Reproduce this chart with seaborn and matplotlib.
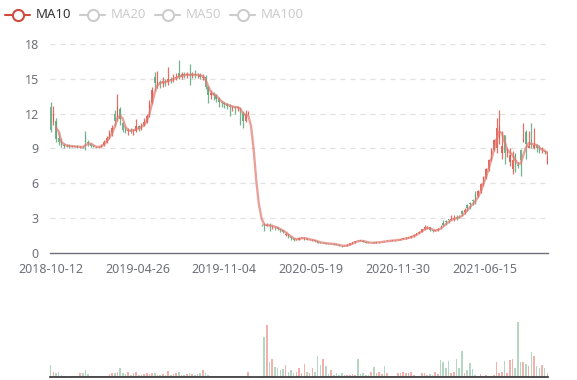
import numpy as np
import pandas as pd
import matplotlib
matplotlib.use("Agg")
import matplotlib.pyplot as plt
import seaborn as sns
from matplotlib.lines import Line2D

# x axis: trading-day index, labelled at these sessions
tick_days = [0, 130, 260, 390, 520, 650]
tick_labels = ["2018-10-12", "2019-04-26", "2019-11-04", "2020-05-19", "2020-11-30", "2021-06-15"]
legend_names = ["MA10", "MA20", "MA50", "MA100"]
step = 4  # one session sampled every 4 trading days

open_ = [
    12.6, 11.3, 11.4, 9.9, 9.6, 9.3, 9.2, 9.25, 9.2, 9.15,
    9.2, 9.1, 9.15, 10.2, 9.6, 9.4, 9.2, 9.15, 9.1, 9.15,
    9.3, 9.6, 9.9, 10.3, 12.0, 11.6, 12.4, 11.2, 10.6, 10.5,
    10.6, 10.5, 10.5, 10.9, 10.7, 11.0, 11.3, 11.8, 12.9, 15.2,
    14.4, 14.7, 14.6, 14.8, 14.7, 15.0, 14.9, 15.1, 15.5, 15.2,
    15.4, 15.3, 15.4, 15.3, 15.4, 15.3, 15.35, 15.1, 15.2, 14.3,
    13.6, 13.8, 13.6, 13.3, 13.0, 12.9, 12.8, 12.7, 12.5, 12.6,
    12.5, 12.5, 12.1, 11.4, 12.0, 8.8, 6.0, 3.9, 2.6, 2.45,
    2.5, 2.35, 2.45, 2.2, 2.28, 2.2, 2.05, 1.95, 1.55, 1.6,
    1.4, 1.25, 1.12, 1.15, 1.3, 1.18, 1.22, 1.13, 1.08, 1.1,
    1.0, 0.9, 0.86, 0.88, 0.8, 0.78, 0.8, 0.76, 0.7, 0.64,
    0.58, 0.62, 0.72, 0.82, 0.92, 1.1, 1.08, 1.05, 0.98, 0.9,
    0.86, 0.92, 0.9, 0.92, 0.94, 1.04, 1.02, 1.05, 1.07, 1.08,
    1.1, 1.15, 1.2, 1.25, 1.3, 1.35, 1.45, 1.55, 1.7, 1.85,
    2.05, 2.2, 2.2, 1.95, 1.9, 1.95, 2.35, 2.6, 2.75, 2.9,
    2.85, 2.95, 3.1, 3.2, 3.6, 3.5, 4.1, 4.3, 4.6, 5.1,
    4.9, 5.3, 5.9, 6.5, 7.2, 8.0, 8.9, 9.0, 9.8, 8.6,
    10.2, 8.6, 7.8, 7.2, 8.5, 7.6, 8.9, 9.6, 10.4, 9.0,
    9.8, 9.0, 9.3, 9.0, 8.75, 8.8, 7.7]
close = [
    10.6, 12.0, 9.8, 9.6, 9.3, 9.2, 9.25, 9.2, 9.15, 9.2,
    9.1, 9.15, 9.1, 9.6, 9.5, 9.2, 9.15, 9.1, 9.15, 9.3,
    9.6, 9.9, 10.3, 10.8, 11.4, 12.6, 11.5, 10.6, 10.5, 10.6,
    10.5, 10.6, 10.9, 10.7, 11.0, 11.3, 11.8, 12.9, 14.0, 14.6,
    14.7, 14.6, 14.8, 14.7, 15.0, 14.9, 15.1, 15.2, 15.2, 15.4,
    15.3, 15.4, 15.3, 15.4, 15.3, 15.35, 15.2, 15.2, 14.3, 13.6,
    13.8, 13.6, 13.3, 13.0, 12.9, 12.8, 12.7, 12.6, 12.6, 12.5,
    12.55, 12.2, 11.4, 12.0, 12.1, 8.8, 6.0, 3.9, 2.6, 2.4,
    2.35, 2.45, 2.3, 2.28, 2.2, 2.05, 1.95, 1.8, 1.62, 1.4,
    1.25, 1.15, 1.15, 1.3, 1.35, 1.22, 1.15, 1.15, 1.1, 1.0,
    0.9, 0.86, 0.88, 0.8, 0.79, 0.8, 0.76, 0.7, 0.64, 0.58,
    0.62, 0.72, 0.82, 0.92, 1.02, 1.08, 1.05, 0.98, 0.9, 0.86,
    0.88, 0.9, 0.92, 0.94, 0.98, 1.02, 1.05, 1.07, 1.08, 1.1,
    1.15, 1.2, 1.25, 1.3, 1.35, 1.45, 1.55, 1.7, 1.85, 2.05,
    2.2, 2.25, 1.95, 1.9, 1.95, 2.1, 2.3, 2.45, 2.7, 2.85,
    2.95, 3.0, 3.05, 3.15, 3.4, 3.7, 3.9, 4.2, 4.5, 4.6,
    5.3, 5.9, 6.5, 7.2, 8.0, 8.9, 9.7, 10.8, 10.9, 9.2,
    8.6, 8.9, 8.4, 8.0, 7.6, 7.5, 8.0, 9.8, 9.4, 9.2,
    9.6, 9.3, 9.0, 8.9, 8.8, 8.7, 8.3]
high = [
    13.0, 12.7, 11.6, 10.4, 9.9, 9.5, 9.4, 9.35, 9.3, 9.25,
    9.3, 9.2, 9.2, 10.55, 9.7, 9.5, 9.3, 9.25, 9.2, 9.4,
    9.7, 10.1, 10.6, 11.0, 12.3, 13.7, 12.6, 11.3, 10.9, 10.8,
    10.8, 10.7, 11.5, 11.0, 11.2, 11.6, 12.0, 13.2, 14.3, 15.6,
    15.7, 14.9, 15.2, 15.0, 16.0, 15.2, 15.4, 15.5, 16.6, 15.6,
    15.6, 15.6, 16.3, 15.6, 15.8, 15.5, 15.5, 15.4, 15.3, 14.4,
    14.0, 13.9, 13.7, 13.4, 13.1, 13.0, 12.9, 12.8, 12.7, 12.7,
    12.7, 12.6, 12.2, 12.3, 12.2, 8.8, 6.0, 3.9, 2.6, 2.5,
    2.6, 2.6, 2.55, 2.4, 2.35, 2.25, 2.1, 2.0, 1.85, 1.65,
    1.45, 1.3, 1.2, 1.35, 1.4, 1.4, 1.25, 1.2, 1.2, 1.12,
    1.02, 0.95, 0.92, 0.9, 0.83, 0.84, 0.82, 0.78, 0.72, 0.66,
    0.66, 0.76, 0.86, 0.96, 1.06, 1.12, 1.12, 1.08, 1.0, 0.92,
    0.9, 0.93, 0.95, 0.97, 1.0, 1.05, 1.08, 1.1, 1.1, 1.12,
    1.18, 1.24, 1.3, 1.35, 1.4, 1.5, 1.6, 1.75, 1.9, 2.1,
    2.37, 2.35, 2.25, 2.0, 2.0, 2.15, 2.4, 2.8, 2.8, 2.95,
    3.3, 3.3, 3.3, 3.25, 3.7, 3.9, 4.2, 4.35, 4.65, 5.3,
    5.4, 6.0, 6.6, 7.3, 8.1, 9.0, 9.8, 11.6, 12.3, 10.5,
    10.2, 9.0, 9.0, 8.8, 8.6, 7.8, 8.95, 11.2, 10.6, 10.5,
    11.2, 10.8, 9.4, 9.3, 9.1, 8.9, 8.8]
low = [
    10.4, 11.0, 9.6, 9.3, 9.1, 9.0, 9.1, 9.05, 9.1, 9.1,
    9.05, 9.05, 9.0, 8.9, 9.2, 9.1, 9.1, 9.05, 9.05, 9.1,
    9.2, 9.5, 9.8, 10.1, 10.9, 11.4, 11.0, 10.4, 10.3, 10.2,
    10.3, 10.2, 10.4, 10.5, 10.6, 10.9, 11.2, 11.7, 12.8, 14.0,
    14.2, 14.2, 14.3, 14.4, 14.5, 14.6, 14.7, 14.9, 15.0, 15.0,
    15.1, 15.1, 14.5, 15.1, 15.1, 15.1, 15.0, 14.9, 14.1, 12.9,
    13.3, 13.2, 13.0, 12.6, 12.6, 12.5, 12.4, 11.8, 12.2, 12.0,
    12.2, 11.0, 10.8, 11.3, 11.9, 8.8, 6.0, 3.9, 2.6, 2.3,
    1.9, 2.3, 1.9, 2.1, 2.0, 1.95, 1.85, 1.7, 1.45, 1.3,
    1.15, 1.05, 1.1, 1.1, 1.25, 1.15, 1.1, 1.1, 1.05, 0.95,
    0.85, 0.82, 0.82, 0.76, 0.75, 0.75, 0.73, 0.66, 0.6, 0.53,
    0.56, 0.6, 0.7, 0.8, 0.9, 1.0, 1.0, 0.95, 0.88, 0.83,
    0.84, 0.86, 0.88, 0.9, 0.92, 0.96, 1.0, 1.02, 1.04, 1.05,
    1.08, 1.12, 1.18, 1.22, 1.28, 1.32, 1.42, 1.52, 1.68, 1.82,
    2.0, 2.1, 1.9, 1.85, 1.88, 1.92, 2.05, 2.3, 2.45, 2.6,
    2.8, 2.75, 2.85, 3.0, 3.2, 3.4, 3.6, 3.8, 4.1, 4.2,
    4.8, 5.2, 5.8, 6.4, 7.1, 7.9, 8.8, 8.65, 9.4, 8.1,
    7.65, 8.3, 7.5, 6.8, 7.0, 7.3, 6.65, 9.6, 8.1, 9.0,
    9.0, 8.95, 8.7, 8.6, 8.6, 8.5, 7.65]
volume = [
    34, 15, 12, 15, 6, 4, 3, 3, 3, 2,
    3, 12, 12, 18, 8, 3, 2, 3, 2, 3,
    3, 4, 8, 10, 12, 15, 25, 10, 8, 15,
    6, 10, 14, 6, 6, 8, 10, 8, 12, 10,
    6, 5, 8, 5, 16, 6, 8, 10, 14, 6,
    5, 8, 12, 8, 6, 8, 12, 20, 10, 5,
    4, 3, 2, 3, 2, 2, 2, 2, 2, 2,
    2, 2, 3, 4, 15, 1, 1, 1, 1, 2,
    110, 142, 40, 48, 28, 25, 20, 22, 33, 15,
    18, 10, 15, 25, 12, 35, 15, 10, 25, 15,
    58, 32, 50, 30, 8, 18, 5, 10, 6, 12,
    5, 6, 5, 8, 6, 50, 8, 12, 5, 6,
    15, 28, 10, 15, 8, 31, 10, 3, 2, 4,
    10, 12, 15, 10, 12, 15, 5, 4, 3, 12,
    12, 5, 8, 6, 15, 8, 46, 40, 25, 43,
    10, 15, 48, 25, 72, 10, 20, 37, 22, 5,
    4, 8, 3, 5, 3, 4, 5, 42, 10, 15,
    44, 10, 47, 50, 25, 150, 40, 40, 35, 30,
    67, 58, 30, 25, 32, 25, 12]

UP = "#e0564a"
DOWN = "#5da67e"
AXIS = "#6e7079"

sns.set_theme(style="white")
plt.rcParams["font.family"] = ["Noto Sans", "DejaVu Sans"]

df = pd.DataFrame({"open": open_, "close": close, "high": high, "low": low, "volume": volume})
df["day"] = np.arange(len(df)) * step
# MA10: 10 sessions ~ 3 samples at this spacing
df["ma10"] = df["close"].rolling(3).mean()
colors = np.where(df["close"] >= df["open"], UP, DOWN)

fig = plt.figure(figsize=(5.77, 3.8), dpi=100)
ax = fig.add_axes([50 / 577, 1 - 253 / 380, 498 / 577, 209 / 380])
axv = fig.add_axes([50 / 577, 1 - 377 / 380, 498 / 577, 55 / 380])

# candles
ax.vlines(df["day"], df["low"], df["high"], colors=colors, lw=0.9, alpha=0.85)
body_lo = df[["open", "close"]].min(axis=1)
body_h = (df["close"] - df["open"]).abs()
ax.bar(df["day"], body_h, bottom=body_lo, width=2.2, color=colors, alpha=0.85, lw=0)
sns.lineplot(data=df, x="day", y="ma10", ax=ax, color="#e27a6f", lw=1.7, alpha=0.7)

ax.set_xlim(-1, 745)
ax.set_ylim(0, 18)
ax.set_yticks(range(0, 19, 3))
ax.set_xticks(tick_days)
ax.set_xticklabels(tick_labels)
ax.set_xlabel("")
ax.set_ylabel("")
for y in range(3, 19, 3):
    ax.axhline(y, color="#e0e0e0", lw=0.9, ls=(0, (4, 4)), zorder=0)
for s in ["top", "right", "left"]:
    ax.spines[s].set_visible(False)
ax.spines["bottom"].set_color(AXIS)
ax.spines["bottom"].set_linewidth(1)
ax.tick_params(axis="y", length=0, pad=8, labelcolor=AXIS, labelsize=9)
ax.tick_params(axis="x", length=5, width=1, color=AXIS, labelcolor=AXIS, labelsize=9, pad=2)

# volume
axv.bar(df["day"], df["volume"], width=2.4, color=colors, alpha=0.45, lw=0)
axv.set_xlim(-1, 745)
axv.set_ylim(0, 150)
axv.set_xticks([])
axv.set_yticks([])
for s in ["top", "right", "left"]:
    axv.spines[s].set_visible(False)
axv.spines["bottom"].set_color("#333333")
axv.spines["bottom"].set_linewidth(1.2)

# legend (only MA10 active)
leg_x = [5, 80, 155, 230]
ly = 1 - 15 / 380
for name, x0 in zip(legend_names, leg_x):
    active = name == "MA10"
    c = "#d04a3e" if active else "#cccccc"
    fig.add_artist(Line2D([x0 / 577, (x0 + 25) / 577], [ly, ly], color=c, lw=1.5,
                          transform=fig.transFigure))
    fig.add_artist(Line2D([(x0 + 12.5) / 577], [ly], marker="o", markersize=8,
                          markerfacecolor="white", markeredgecolor=c, markeredgewidth=1.5,
                          transform=fig.transFigure))
    fig.text((x0 + 31) / 577, ly, name, fontsize=9.5, va="center", ha="left",
             color="#333333" if active else "#cccccc")

fig.savefig("out.png", dpi=100)
